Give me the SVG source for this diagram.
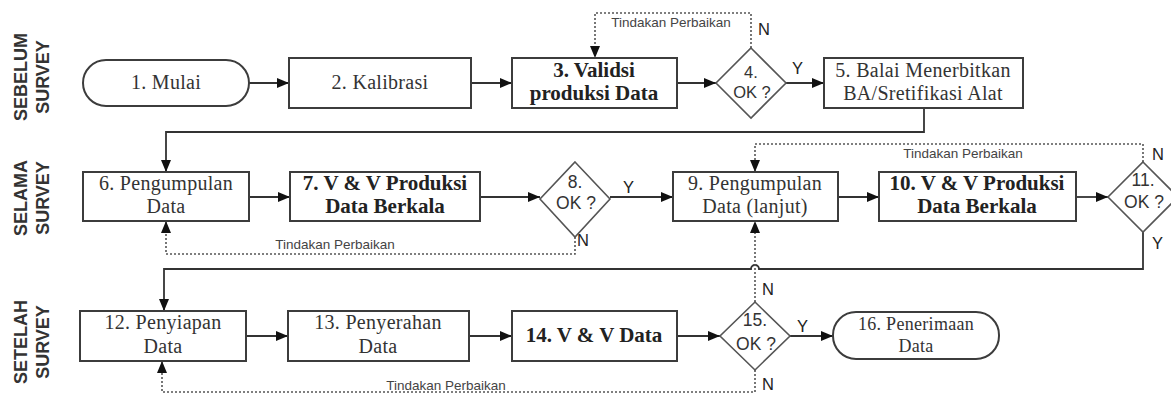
<svg xmlns="http://www.w3.org/2000/svg" width="1171" height="394" viewBox="0 0 1171 394">
<style>
.bg{fill:#fff}
.box{fill:#fff;stroke:#3c3c3c;stroke-width:2}
.dia{fill:#fff;stroke:#555;stroke-width:1.6}
.t{font-family:"Liberation Serif","Times New Roman",serif;font-size:20px;letter-spacing:0.3px;fill:#333;text-anchor:middle}
.tb{font-family:"Liberation Serif","Times New Roman",serif;font-size:21px;font-weight:bold;fill:#222;text-anchor:middle}
.d{font-family:"Liberation Sans",Arial,sans-serif;font-size:17.5px;fill:#333;text-anchor:middle}
.s{font-family:"Liberation Sans",Arial,sans-serif;font-size:13.5px;fill:#444;text-anchor:middle}
.yn{font-family:"Liberation Sans",Arial,sans-serif;font-size:16.5px;fill:#222}
.lane{font-family:"Liberation Sans",Arial,sans-serif;font-size:18px;font-weight:bold;fill:#333;text-anchor:middle}
.c{fill:none;stroke:#333;stroke-width:1.8}
.dt{fill:none;stroke:#555;stroke-width:1.6;stroke-dasharray:2,2}
</style>
<defs>
<marker id="ah" markerUnits="userSpaceOnUse" markerWidth="12" markerHeight="10" refX="12" refY="5" orient="auto">
<path d="M0,0 L12,5 L0,10 z" fill="#111"/>
</marker>
</defs>
<rect class="bg" width="1171" height="394"/>

<g id="lanes">
<text class="lane" transform="translate(27,77) rotate(-90)">SEBELUM</text>
<text class="lane" transform="translate(49,77) rotate(-90)">SURVEY</text>
<text class="lane" transform="translate(27,198) rotate(-90)">SELAMA</text>
<text class="lane" transform="translate(49,198) rotate(-90)">SURVEY</text>
<text class="lane" transform="translate(27,342) rotate(-90)">SETELAH</text>
<text class="lane" transform="translate(49,342) rotate(-90)">SURVEY</text>
</g>

<g id="connectors">
<path class="c" d="M249,83 H289" marker-end="url(#ah)"/>
<path class="c" d="M471,83 H512" marker-end="url(#ah)"/>
<path class="c" d="M677,83 H716" marker-end="url(#ah)"/>
<path class="c" d="M786,83 H824" marker-end="url(#ah)"/>
<path class="dt" d="M751,48 V13 H595 V58" marker-end="url(#ah)"/>
<path class="c" d="M924,108 V132 H166 V172" marker-end="url(#ah)"/>
<path class="c" d="M249,197 H290" marker-end="url(#ah)"/>
<path class="c" d="M480,197 H540" marker-end="url(#ah)"/>
<path class="c" d="M610,197 H673" marker-end="url(#ah)"/>
<path class="c" d="M838,197 H879" marker-end="url(#ah)"/>
<path class="c" d="M1076,197 H1108" marker-end="url(#ah)"/>
<path class="dt" d="M1143,162 V144 H755 V172" marker-end="url(#ah)"/>
<path class="c" d="M1143,232 V269 H759 A4,4 0 0 0 751,269 H164 V311" marker-end="url(#ah)"/>
<path class="dt" d="M575,237 V254 H166 V221" marker-end="url(#ah)"/>
<path class="dt" d="M755,302 V221" marker-end="url(#ah)"/>
<path class="c" d="M246,336 H288" marker-end="url(#ah)"/>
<path class="c" d="M469,336 H512" marker-end="url(#ah)"/>
<path class="c" d="M677,336 H720" marker-end="url(#ah)"/>
<path class="c" d="M790,336 H833" marker-end="url(#ah)"/>
<path class="dt" d="M755,370 V392 H162 V361" marker-end="url(#ah)"/>
<text class="s" x="671" y="27">Tindakan Perbaikan</text>
<text class="s" x="335" y="249">Tindakan Perbaikan</text>
<text class="s" x="963" y="158">Tindakan Perbaikan</text>
<text class="s" x="446" y="390">Tindakan Perbaikan</text>
<text class="yn" x="758" y="35">N</text>
<text class="yn" x="792" y="74">Y</text>
<text class="yn" x="577" y="246">N</text>
<text class="yn" x="623" y="193">Y</text>
<text class="yn" x="1152" y="160">N</text>
<text class="yn" x="1152" y="249">Y</text>
<text class="yn" x="762" y="295">N</text>
<text class="yn" x="762" y="390">N</text>
<text class="yn" x="797" y="332">Y</text>
</g>

<g id="n1"><rect class="box" x="83" y="60" width="166" height="46" rx="23"/><text class="t" x="166" y="89">1. Mulai</text></g>
<g id="n2"><rect class="box" x="289" y="58" width="182" height="50"/><text class="t" x="380" y="89">2. Kalibrasi</text></g>
<g id="n3"><rect class="box" x="512" y="58" width="165" height="50"/><text class="tb" x="594" y="77">3. Validsi</text><text class="tb" x="594" y="100">produksi Data</text></g>
<g id="n4"><polygon class="dia" points="751,48 786,83 751,118 716,83"/><text class="d" x="751" y="78" style="font-size:16.5px">4.</text><text class="d" x="752" y="98" style="font-size:16.5px">OK ?</text></g>
<g id="n5"><rect class="box" x="824" y="58" width="199" height="50"/><text class="t" x="923" y="77">5. Balai Menerbitkan</text><text class="t" x="923" y="100">BA/Sretifikasi Alat</text></g>

<g id="n6"><rect class="box" x="83" y="172" width="166" height="49"/><text class="t" x="166" y="190">6. Pengumpulan</text><text class="t" x="166" y="213">Data</text></g>
<g id="n7"><rect class="box" x="290" y="172" width="190" height="49"/><text class="tb" x="385" y="190">7. V &amp; V Produksi</text><text class="tb" x="385" y="213">Data Berkala</text></g>
<g id="n8"><polygon class="dia" points="575,162 610,199 575,237 540,199"/><text class="d" x="575" y="188">8.</text><text class="d" x="576" y="209">OK ?</text></g>
<g id="n9"><rect class="box" x="673" y="172" width="165" height="49"/><text class="t" x="755" y="190">9. Pengumpulan</text><text class="t" x="755" y="213">Data (lanjut)</text></g>
<g id="n10"><rect class="box" x="879" y="172" width="197" height="49"/><text class="tb" x="977" y="190">10. V &amp; V Produksi</text><text class="tb" x="977" y="213">Data Berkala</text></g>
<g id="n11"><polygon class="dia" points="1143,162 1178,197 1143,232 1108,197"/><text class="d" x="1143" y="186">11.</text><text class="d" x="1144" y="208">OK ?</text></g>

<g id="n12"><rect class="box" x="80" y="311" width="166" height="50"/><text class="t" x="163" y="329">12. Penyiapan</text><text class="t" x="163" y="353">Data</text></g>
<g id="n13"><rect class="box" x="288" y="311" width="181" height="50"/><text class="t" x="378" y="329">13. Penyerahan</text><text class="t" x="378" y="353">Data</text></g>
<g id="n14"><rect class="box" x="512" y="311" width="165" height="50"/><text class="tb" x="594" y="342">14. V &amp; V Data</text></g>
<g id="n15"><polygon class="dia" points="755,302 790,336 755,370 720,336"/><text class="d" x="755" y="326">15.</text><text class="d" x="756" y="350">OK ?</text></g>
<g id="n16"><rect class="box" x="833" y="312" width="166" height="47" rx="23"/><text class="t" x="916" y="330" style="font-size:18px">16. Penerimaan</text><text class="t" x="916" y="352" style="font-size:18px">Data</text></g>
</svg>
